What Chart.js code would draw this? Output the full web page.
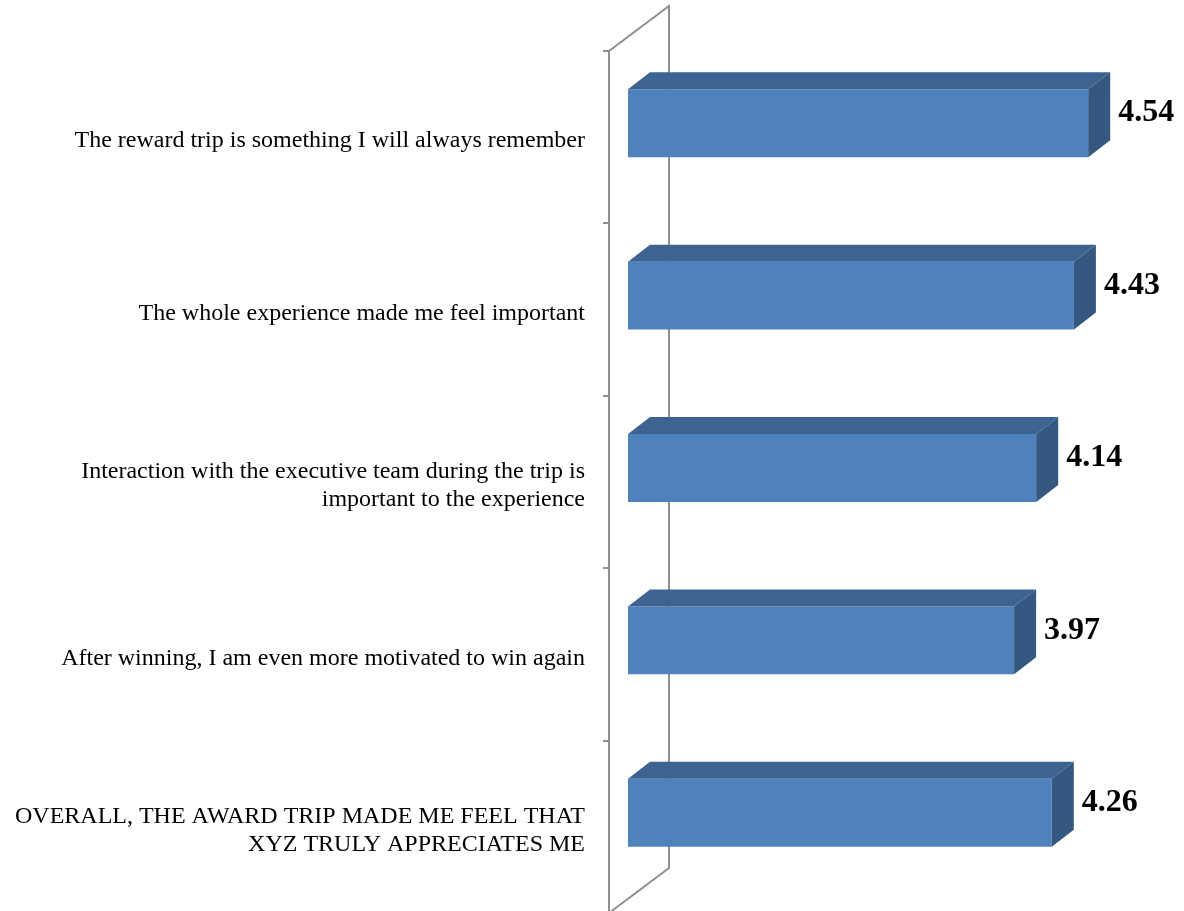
<!DOCTYPE html>
<html>
<head>
<meta charset="utf-8">
<title>Reward trip survey</title>
<script src="https://cdn.jsdelivr.net/npm/chart.js@4.4.1/dist/chart.umd.min.js"></script>
<style>
  html, body { margin: 0; padding: 0; background: #fff; }
  #chart { display: block; }
</style>
</head>
<body>
<canvas id="chart" width="1184" height="911"></canvas>
<script>
// statements, top to bottom
const categories = [
  'The reward trip is something I will always remember',
  'The whole experience made me feel important',
  ['Interaction with the executive team during the trip is', 'important to the experience'],
  'After winning, I am even more motivated to win again',
  ['OVERALL, THE AWARD TRIP MADE ME FEEL THAT', 'XYZ TRULY APPRECIATES ME']
];
const scores = [4.54, 4.43, 4.14, 3.97, 4.26];
const axisMin = 1;
const axisMax = 5;

// 3d look: bar depth offset and wall offsets relative to the bar front plane
const depth = { dx: 22, dy: -17 };
const wallFront = { dx: -19, dy: 14 };
const wallBack = { dx: 41, dy: -31 };

const frontColor = '#4f81bd';
const topColor = '#3d6491';
const sideColor = '#34587f';
const wallColor = '#8f8f8f';
const serif = '"Liberation Serif", "Times New Roman", serif';

const wallPlugin = {
  id: 'wall',
  beforeDatasetsDraw(chart) {
    const { ctx, chartArea: a } = chart;
    const fx = a.left + wallFront.dx, bx = a.left + wallBack.dx;
    const fTop = a.top + wallFront.dy, fBot = a.bottom + wallFront.dy;
    const bTop = a.top + wallBack.dy, bBot = a.bottom + wallBack.dy;
    ctx.save();
    ctx.strokeStyle = wallColor;
    ctx.lineWidth = 2;
    ctx.beginPath();
    ctx.moveTo(fx, fBot);
    ctx.lineTo(fx, fTop);
    ctx.lineTo(bx, bTop);
    ctx.lineTo(bx, bBot);
    ctx.lineTo(fx, fBot);
    ctx.stroke();
    // small tick marks on the category boundaries
    const band = (a.bottom - a.top) / categories.length;
    ctx.beginPath();
    for (let i = 0; i <= categories.length; i++) {
      const y = Math.round(fTop + i * band);
      ctx.moveTo(fx - 6, y);
      ctx.lineTo(fx, y);
    }
    ctx.stroke();
    ctx.restore();
  }
};

const boxPlugin = {
  id: 'box3d',
  afterDatasetsDraw(chart) {
    const { ctx, chartArea } = chart;
    const meta = chart.getDatasetMeta(0);
    ctx.save();
    meta.data.forEach((bar, i) => {
      const { x, y, base, height } = bar.getProps(['x', 'y', 'base', 'height'], true);
      const x0 = Math.max(base, chartArea.left), x1 = x;
      const y0 = y - height / 2, y1 = y + height / 2;
      // top face
      ctx.fillStyle = topColor;
      ctx.beginPath();
      ctx.moveTo(x0, y0);
      ctx.lineTo(x0 + depth.dx, y0 + depth.dy);
      ctx.lineTo(x1 + depth.dx, y0 + depth.dy);
      ctx.lineTo(x1, y0);
      ctx.closePath();
      ctx.fill();
      // right side face
      ctx.fillStyle = sideColor;
      ctx.beginPath();
      ctx.moveTo(x1, y0);
      ctx.lineTo(x1 + depth.dx, y0 + depth.dy);
      ctx.lineTo(x1 + depth.dx, y1 + depth.dy);
      ctx.lineTo(x1, y1);
      ctx.closePath();
      ctx.fill();
      // value label
      ctx.fillStyle = '#000';
      ctx.font = 'bold 32px ' + serif;
      ctx.textAlign = 'left';
      ctx.textBaseline = 'middle';
      ctx.fillText(scores[i].toFixed(2), x1 + depth.dx + 8, y - 10);
    });
    ctx.restore();
  }
};

new Chart(document.getElementById('chart'), {
  type: 'bar',
  data: {
    labels: categories,
    datasets: [{
      data: scores,
      base: axisMin,
      backgroundColor: frontColor,
      borderWidth: 0,
      barPercentage: 0.394,
      categoryPercentage: 1
    }]
  },
  options: {
    indexAxis: 'y',
    responsive: false,
    animation: false,
    layout: { padding: { top: 37, bottom: 12, right: 36, left: 0 } },
    plugins: {
      legend: { display: false },
      tooltip: { enabled: false }
    },
    scales: {
      x: {
        display: false,
        min: axisMin,
        max: axisMax
      },
      y: {
        border: { display: false },
        grid: { display: false, drawTicks: false },
        ticks: {
          color: '#000',
          padding: 43,
          labelOffset: 18,
          font: { family: serif, size: 24, lineHeight: 1.17 }
        },
        afterFit(scale) {
          scale.width = 628;
          scale.paddingTop = 0;
          scale.paddingBottom = 0;
        }
      }
    }
  },
  plugins: [wallPlugin, boxPlugin]
});
</script>
</body>
</html>
